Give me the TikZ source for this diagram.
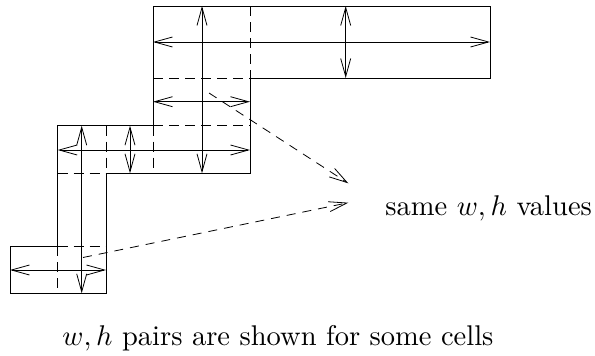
\documentclass[tikz,border=0pt]{standalone}
\usetikzlibrary{arrows.meta}
\begin{document}
\begin{tikzpicture}[x=1pt,y=-1pt, line width=0.8pt,
  dsh/.style={dash pattern=on 10pt off 6pt},
  dimline/.style={{Straight Barb[length=18pt,width=10pt]}-{Straight Barb[length=18pt,width=10pt]}},
  ptr/.style={dash pattern=on 9pt off 7pt,-{Straight Barb[length=18pt,width=10pt]}},
  lbl/.style={inner sep=0pt, anchor=base west}]
\useasboundingbox (0,0) rectangle (595,356);
% key coordinates
\coordinate (A) at (153,6);
\coordinate (B) at (490,6);
\coordinate (C) at (490,78);
\coordinate (D) at (250,78);
\coordinate (E) at (250,173.3);
\coordinate (F) at (153,125.7);
\coordinate (G) at (57.7,125.7);
\coordinate (H) at (57.7,246);
\coordinate (I) at (10,246);
\coordinate (J) at (10,293.3);
\coordinate (K) at (106,293.3);
\coordinate (L) at (106,173.3);
% solid outlines
\draw (F) -- (A) -- (B) -- (C) -- (D) -- (E) -- (L) -- (K) -- (J) -- (I) -- (H) -- (G) -- (F);
% dashed inner cell borders
\draw[dsh] (250,6) -- (D);
\draw[dsh] (153,78) -- (D);
\draw[dsh] (F) -- (250,125.7);
\draw[dsh] (F) -- (153,173.3);
\draw[dsh] (57.7,173.3) -- (L);
\draw[dsh] (106,125.7) -- (L);
\draw[dsh] (H) -- (106,246);
\draw[dsh] (H) -- (57.7,293.3);
% w,h dimension arrows
\draw[dimline] (153,42) -- (490,42);
\draw[dimline] (345.7,6) -- (345.7,78);
\draw[dimline] (202,6) -- (202,173.3);
\draw[dimline] (153,101.7) -- (250,101.7);
\draw[dimline] (57.7,150) -- (250,150);
\draw[dimline] (130,125.7) -- (130,173.3);
\draw[dimline] (81.7,125.7) -- (81.7,293.3);
\draw[dimline] (10,270) -- (106,270);
% labels
\node[lbl] (same) at (385,215) {\scalebox{2.85}{same $w,h$ values}};
\node[lbl] (note) at (62,345) {\scalebox{2.85}{$w,h$ pairs are shown for some cells}};
% pointers
\coordinate (s1) at (209,93);
\coordinate (s2) at (83,257.5);
\coordinate (t1) at (348.3,183.3);
\coordinate (t2) at (348.3,202.7);
\draw[ptr] (s1) -- (t1);
\draw[ptr] (s2) -- (t2);
\end{tikzpicture}
\end{document}
